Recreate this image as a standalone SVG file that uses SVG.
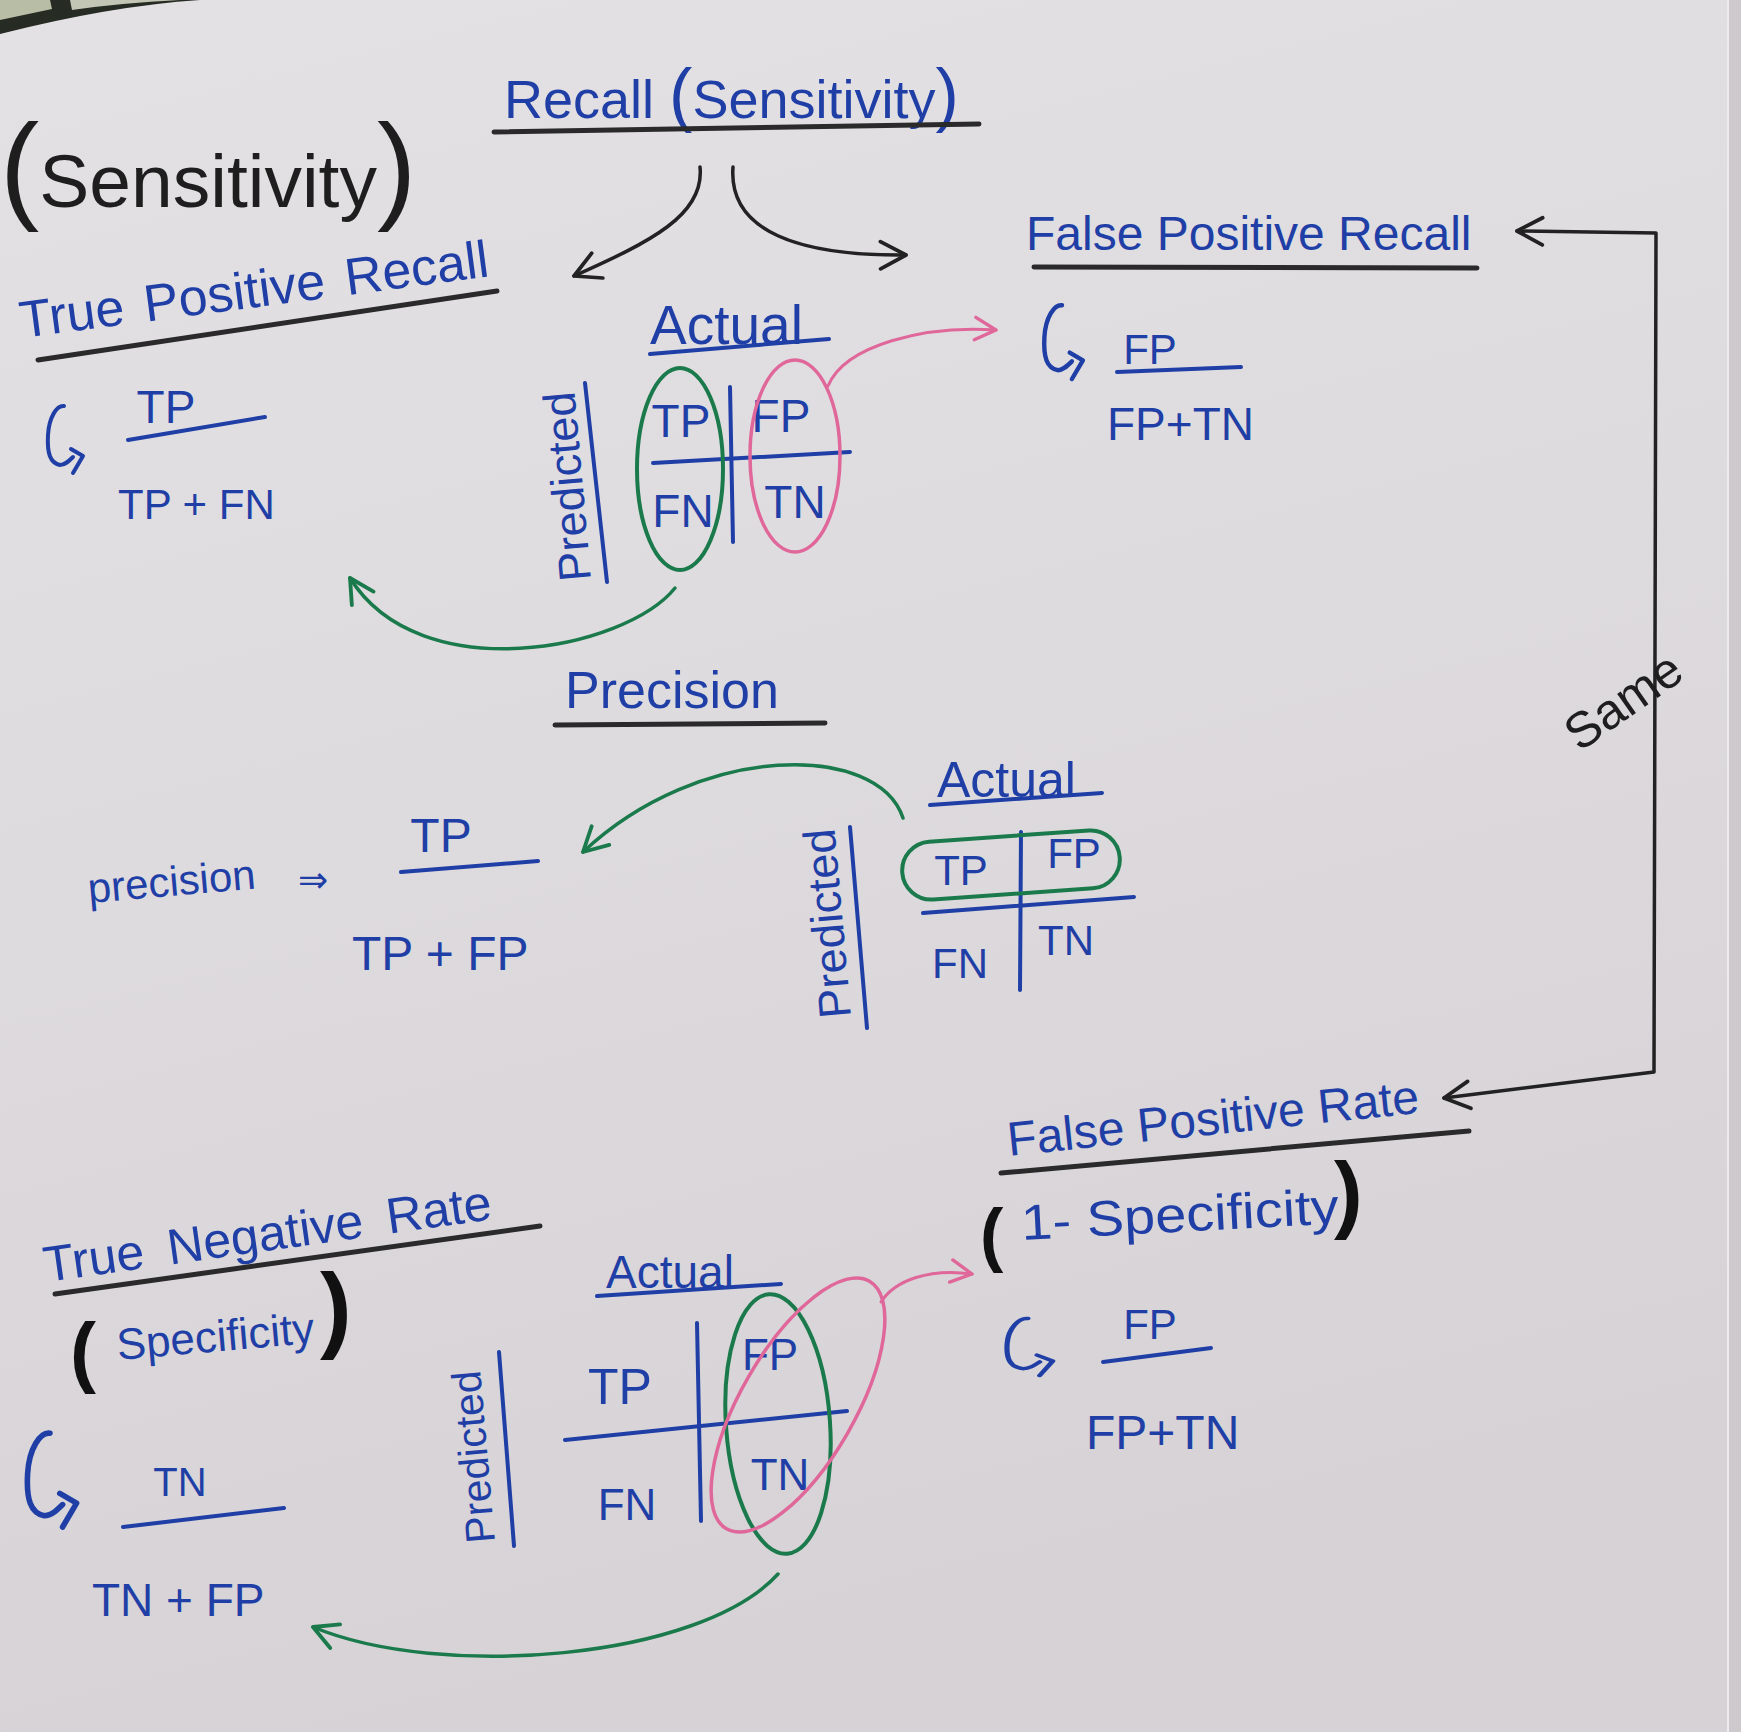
<svg xmlns="http://www.w3.org/2000/svg" width="1741" height="1732" viewBox="0 0 1741 1732">
<defs>
<linearGradient id="paper" x1="0" y1="0" x2="0.25" y2="1">
<stop offset="0" stop-color="#e4e1e5"/>
<stop offset="0.5" stop-color="#dedbdf"/>
<stop offset="1" stop-color="#d6d2d5"/>
</linearGradient>
<marker id="ahK" viewBox="0 0 20 20" refX="18" refY="10" markerWidth="34" markerHeight="34" markerUnits="userSpaceOnUse" orient="auto-start-reverse">
<path d="M3,2 L18,10 L3,18" fill="none" stroke="#222" stroke-width="2.2" stroke-linecap="round" stroke-linejoin="round"/>
</marker>
<marker id="ahG" viewBox="0 0 20 20" refX="18" refY="10" markerWidth="32" markerHeight="32" markerUnits="userSpaceOnUse" orient="auto">
<path d="M3,2 L18,10 L3,18" fill="none" stroke="#1b7a4b" stroke-width="2.4" stroke-linecap="round" stroke-linejoin="round"/>
</marker>
<marker id="ahP" viewBox="0 0 20 20" refX="18" refY="10" markerWidth="28" markerHeight="28" markerUnits="userSpaceOnUse" orient="auto">
<path d="M3,2 L18,10 L3,18" fill="none" stroke="#e0679a" stroke-width="2.4" stroke-linecap="round" stroke-linejoin="round"/>
</marker>
<path id="hook" d="M20,3 C13,2 5,14 4,32 C3,50 6,60 16,62 C21,62 25,58 29,54 M27,46 L39,53 L29,70" fill="none" stroke="#1f3fa6" stroke-width="4" stroke-linecap="round" stroke-linejoin="round"/>
</defs>
<style>
.bt{fill:#1f3fa6;font-family:"Liberation Sans","DejaVu Sans",sans-serif}
.kt{fill:#1e1e1e;font-family:"Liberation Sans","DejaVu Sans",sans-serif}
.kp{fill:#111;font-family:"Liberation Sans","DejaVu Sans",sans-serif;font-weight:bold}
.lb{stroke:#1f3fa6;stroke-width:4;fill:none;stroke-linecap:round}
.lk{stroke:#2a2a2a;stroke-width:5;fill:none;stroke-linecap:round}
.eg{stroke:#1b7a4b;stroke-width:4;fill:none}
.ep{stroke:#e0679a;stroke-width:3.5;fill:none}
.ck{stroke:#222;stroke-width:3.5;fill:none;stroke-linecap:round;stroke-linejoin:round}
.cg{stroke:#1b7a4b;stroke-width:3.5;fill:none;stroke-linecap:round}
.cp{stroke:#e0679a;stroke-width:3;fill:none;stroke-linecap:round}
.mid{text-anchor:middle}
</style>

<rect x="0" y="0" width="1741" height="1732" fill="url(#paper)"/>
<rect x="1727" y="0" width="14" height="1732" fill="#cdc9cc"/>
<line x1="1728" y1="0" x2="1728" y2="1732" stroke="#ecebee" stroke-width="2"/>
<path d="M0,0 H200 Q110,6 0,34 Z" fill="#262b24"/>
<path d="M0,0 H50 L52,9 L0,20 Z" fill="#b8bda6"/>
<path d="M70,0 H180 Q120,3 72,10 Z" fill="#c3c6b4"/>

<g id="sensitivity-note">
<text class="kt" x="0" y="207" font-size="75"><tspan font-size="118">(</tspan>Sensitivity<tspan font-size="118">)</tspan></text>
</g>

<g id="recall-title">
<text class="bt" x="504" y="118" font-size="54">Recall <tspan font-size="70">(</tspan>Sensitivity<tspan font-size="70">)</tspan></text>
<path class="lk" d="M494,132 L979,124"/>
</g>

<g id="true-positive-recall">
<text class="bt" x="22" y="338" font-size="52" word-spacing="6" transform="rotate(-7.5 22 338)">True Positive Recall</text>
<path class="lk" d="M38,360 L497,291"/>
<use href="#hook" transform="translate(44,403)"/>
<text class="bt mid" x="166" y="423" font-size="46">TP</text>
<path class="lb" d="M128,440 L265,417"/>
<text class="bt" x="118" y="519" font-size="42">TP + FN</text>
</g>

<g id="matrix-recall">
<text class="bt" x="650" y="344" font-size="55">Actual</text>
<path class="lb" d="M650,354 L829,339"/>
<text class="bt" x="591" y="580" font-size="45" transform="rotate(-95 591 580)">Predicted</text>
<path class="lb" d="M607,582 L585,383"/>
<path class="lb" d="M730,387 L733,542"/>
<path class="lb" d="M653,463 L850,452"/>
<text class="bt mid" x="681" y="437" font-size="46">TP</text>
<text class="bt mid" x="781" y="432" font-size="46">FP</text>
<text class="bt mid" x="683" y="527" font-size="46">FN</text>
<text class="bt mid" x="795" y="518" font-size="46">TN</text>
<ellipse class="eg" cx="680" cy="469" rx="43" ry="101"/>
<ellipse class="ep" cx="795" cy="456" rx="45" ry="96"/>
</g>

<g id="false-positive-recall">
<text class="bt" x="1026" y="250" font-size="48">False Positive Recall</text>
<path class="lk" d="M1034,267 L1477,268"/>
<use href="#hook" transform="translate(1040,302) scale(1.1 1.1)"/>
<text class="bt mid" x="1150" y="364" font-size="42">FP</text>
<path class="lb" d="M1117,372 L1241,367"/>
<text class="bt" x="1107" y="440" font-size="46">FP+TN</text>
</g>

<g id="precision-title">
<text class="bt" x="565" y="708" font-size="52">Precision</text>
<path class="lk" d="M555,725 L825,723"/>
</g>

<g id="precision-formula">
<text class="bt" x="89" y="903" font-size="42" transform="rotate(-5 89 903)">precision</text>
<text class="bt" x="298" y="892" font-size="36">⇒</text>
<text class="bt mid" x="441" y="852" font-size="48">TP</text>
<path class="lb" d="M401,872 L538,861"/>
<text class="bt" x="352" y="970" font-size="48">TP + FP</text>
</g>

<g id="matrix-precision">
<text class="bt" x="937" y="797" font-size="50">Actual</text>
<path class="lb" d="M930,805 L1102,793"/>
<text class="bt" x="851" y="1017" font-size="45" transform="rotate(-95 851 1017)">Predicted</text>
<path class="lb" d="M850,827 L867,1028"/>
<path class="lb" d="M1021,832 L1020,990"/>
<path class="lb" d="M923,913 L1134,897"/>
<text class="bt mid" x="961" y="885" font-size="42">TP</text>
<text class="bt mid" x="1074" y="868" font-size="42">FP</text>
<text class="bt mid" x="960" y="978" font-size="42">FN</text>
<text class="bt mid" x="1066" y="955" font-size="42">TN</text>
<rect class="eg" x="902" y="836" width="218" height="58" rx="29" transform="rotate(-4 1011 865)"/>
</g>

<g id="true-negative-rate">
<text class="bt" x="46" y="1282" font-size="50" word-spacing="10" transform="rotate(-8 46 1282)">True Negative Rate</text>
<path class="lk" d="M55,1294 L540,1226"/>
<text class="kp" x="70" y="1378" font-size="78">(</text>
<text class="bt" x="118" y="1360" font-size="44" transform="rotate(-5 118 1360)">Specificity</text>
<text class="kp" x="320" y="1340" font-size="95">)</text>
<use href="#hook" transform="translate(22,1429) scale(1.4 1.4)"/>
<text class="bt mid" x="180" y="1496" font-size="40">TN</text>
<path class="lb" d="M123,1527 L284,1508"/>
<text class="bt" x="92" y="1616" font-size="46">TN + FP</text>
</g>

<g id="matrix-specificity">
<text class="bt" x="606" y="1288" font-size="46">Actual</text>
<path class="lb" d="M597,1296 L781,1284"/>
<text class="bt" x="495" y="1542" font-size="41" transform="rotate(-95 495 1542)">Predicted</text>
<path class="lb" d="M499,1352 L514,1546"/>
<path class="lb" d="M697,1323 L701,1521"/>
<path class="lb" d="M565,1440 L847,1411"/>
<text class="bt mid" x="620" y="1404" font-size="50">TP</text>
<text class="bt mid" x="770" y="1370" font-size="44">FP</text>
<text class="bt mid" x="627" y="1520" font-size="44">FN</text>
<text class="bt mid" x="780" y="1490" font-size="44">TN</text>
<ellipse class="eg" cx="778" cy="1424" rx="52" ry="130" transform="rotate(-4 778 1424)"/>
<ellipse class="ep" cx="798" cy="1405" rx="143" ry="57" transform="rotate(-60 798 1405)"/>
</g>

<g id="false-positive-rate">
<text class="bt" x="1009" y="1156" font-size="48" transform="rotate(-6 1009 1156)">False Positive Rate</text>
<path class="lk" d="M1001,1173 L1469,1131"/>
<text class="kp" x="980" y="1258" font-size="70">(</text>
<text class="bt" x="1022" y="1240" font-size="50" textLength="318" lengthAdjust="spacingAndGlyphs" transform="rotate(-3 1022 1240)">1- Specificity</text>
<text class="kp" x="1334" y="1222" font-size="86">)</text>
<use href="#hook" transform="translate(1002,1316) scale(1.3 0.85)"/>
<text class="bt mid" x="1150" y="1339" font-size="42">FP</text>
<path class="lb" d="M1103,1362 L1211,1348"/>
<text class="bt" x="1086" y="1449" font-size="48">FP+TN</text>
</g>

<g id="connectors">
<path class="ck" d="M700,167 C705,215 650,242 574,276" marker-end="url(#ahK)"/>
<path class="ck" d="M733,167 C728,232 800,256 906,255" marker-end="url(#ahK)"/>
<path class="cp" d="M828,386 C845,345 925,325 996,330" marker-end="url(#ahP)"/>
<path class="cg" d="M675,588 C625,650 420,690 350,578" marker-end="url(#ahG)"/>
<path class="cg" d="M903,818 C878,742 700,742 583,852" marker-end="url(#ahG)"/>
<path class="ck" stroke-width="3" d="M1517,231 L1656,233 L1654,1072 L1444,1098" marker-start="url(#ahK)" marker-end="url(#ahK)"/>
<path class="cp" d="M881,1302 C895,1280 930,1268 972,1274" marker-end="url(#ahP)"/>
<path class="cg" d="M778,1574 C700,1660 440,1680 313,1627" marker-end="url(#ahG)"/>
<text class="kt mid" x="1633" y="715" font-size="50" transform="rotate(-35 1633 715)">Same</text>
</g>
</svg>
